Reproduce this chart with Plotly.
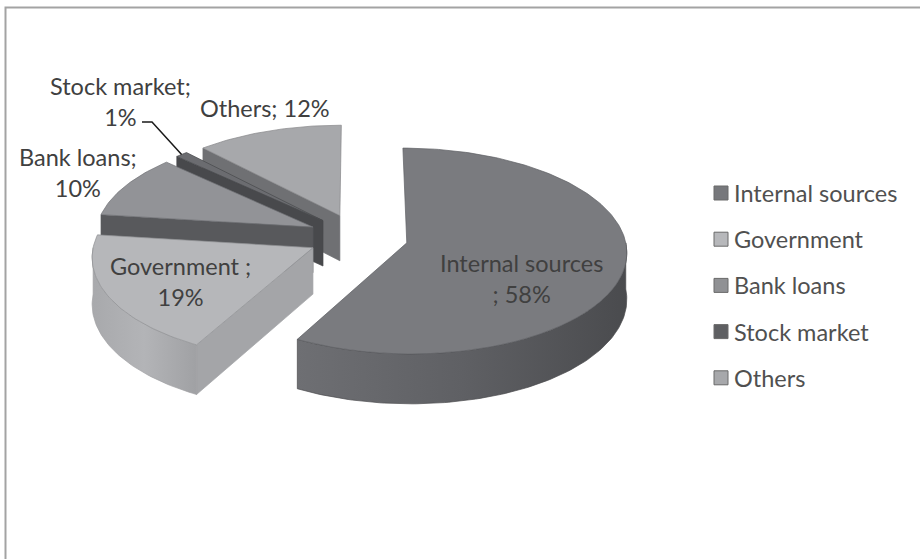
import numpy as np
import plotly.graph_objects as go

# Sources of financing, share of total (%)
categories = ["Internal sources", "Government", "Bank loans", "Stock market", "Others"]
shares = [58, 19, 10, 1, 12]
label_breaks = ["<br>; ", " ;<br>", ";<br>", ";<br>", "; "]

# Fill colours per slice
top_colors = ["#7a7b7f", "#b6b7ba", "#929397", "#6b6c70", "#a7a8ab"]
edge_colors = ["#5f6064", "#8f9093", "#6f7074", "#48494c", "#86878a"]
radial_colors = ["#5c5d61", "#a4a5a8", "#58595c", "#48494c", "#6f7073"]
wall_scales = [
    [[0, "#6e6f73"], [0.5, "#5f6064"], [1, "#4a4b4e"]],
    [[0, "#a8a9ac"], [0.5, "#b3b4b7"], [1, "#a0a1a4"]],
    [[0, "#58595c"], [1, "#4e4f52"]],
    [[0, "#48494c"], [1, "#404144"]],
    [[0, "#6f7073"], [1, "#636467"]],
]
legend_colors = ["#77787c", "#b7b8bb", "#909194", "#5e5f62", "#a7a8ab"]

# Drawing geometry in page pixels
W, H = 920, 559
CX, CY = 358, 237          # pie centre before explosion
RX, RY = 218, 102          # ellipse radii of the tilted disc
DEPTH = 46                 # thickness of the disc
PERSP = 0.08               # nearer parts drawn slightly larger
EXPLODE = 0.23             # outward offset of every slice (fraction of radius)

label_pos = [(521, 278), (180, 281), (78, 172), (120, 101), (265, 108)]
legend_x, legend_y0, legend_dy = 721, 193, 46.2
stock_leader = [(142, 122), (152, 122)]

FONT = "Lato"
FONT_SIZE = 23.5
TEXT_COLOR = "#404040"


def project(u, v, drop=0.0):
    s = 1 + PERSP * v
    return CX + RX * u * s, CY + RY * v * s + DEPTH * s * drop


def arc(ou, ov, a, b, drop=0.0, n=80):
    th = np.radians(np.linspace(a, b, max(3, int(n * (b - a) / 90) + 2)))
    pts = [project(ou + np.sin(t), ov - np.cos(t), drop) for t in th]
    return [p[0] for p in pts], [p[1] for p in pts]


total = float(sum(shares))
bounds = np.concatenate([[0], np.cumsum(shares)]) / total * 360.0

slices = []
for i, name in enumerate(categories):
    a, b = bounds[i], bounds[i + 1]
    mid = np.radians((a + b) / 2)
    ou, ov = EXPLODE * np.sin(mid), -EXPLODE * np.cos(mid)
    slices.append(dict(i=i, a=a, b=b, ou=ou, ov=ov))

fig = go.Figure()


def add_poly(xs, ys, fill, line, gradient=None):
    kw = dict(x=xs, y=ys, mode="lines", fill="toself", fillcolor=fill,
              line=dict(color=line, width=0.7), hoverinfo="skip", showlegend=False)
    if gradient is not None:
        kw["fillgradient"] = dict(type="horizontal", colorscale=gradient)
    fig.add_trace(go.Scatter(**kw))


# back slices first so nearer ones overlap them
for sl in sorted(slices, key=lambda d: d["ov"]):
    i, a, b, ou, ov = sl["i"], sl["a"], sl["b"], sl["ou"], sl["ov"]
    tip_t = project(ou, ov)
    tip_b = project(ou, ov, 1)

    # flat radial walls that face the viewer
    for edge, visible in ((a, np.sin(np.radians(a)) < -1e-6),
                          (b, np.sin(np.radians(b)) > 1e-6)):
        if not visible:
            continue
        t = np.radians(edge)
        e_t = project(ou + np.sin(t), ov - np.cos(t))
        e_b = project(ou + np.sin(t), ov - np.cos(t), 1)
        xs = [tip_t[0], e_t[0], e_b[0], tip_b[0], tip_t[0]]
        ys = [tip_t[1], e_t[1], e_b[1], tip_b[1], tip_t[1]]
        add_poly(xs, ys, radial_colors[i], radial_colors[i])

    # curved outer wall on the front half
    lo, hi = max(a, 90.0), min(b, 270.0)
    if hi > lo:
        xt, yt = arc(ou, ov, lo, hi)
        xb, yb = arc(ou, ov, lo, hi, drop=1)
        xs = xt + xb[::-1] + [xt[0]]
        ys = yt + yb[::-1] + [yt[0]]
        add_poly(xs, ys, wall_scales[i][0][1], wall_scales[i][-1][1], wall_scales[i])

    # top face
    xa, ya = arc(ou, ov, a, b)
    xs = [tip_t[0]] + xa + [tip_t[0]]
    ys = [tip_t[1]] + ya + [tip_t[1]]
    add_poly(xs, ys, top_colors[i], edge_colors[i])

# leader line for the thin slice
stock = slices[categories.index("Stock market")]
mt = np.radians((stock["a"] + stock["b"]) / 2)
end = project(stock["ou"] + np.sin(mt), stock["ov"] - np.cos(mt))
fig.add_trace(go.Scatter(
    x=[p[0] for p in stock_leader] + [end[0]],
    y=[p[1] for p in stock_leader] + [end[1]],
    mode="lines", line=dict(color="#1a1a1a", width=1.5),
    hoverinfo="skip", showlegend=False))

# data labels
for i, name in enumerate(categories):
    fig.add_annotation(
        x=label_pos[i][0], y=label_pos[i][1], xref="x", yref="y",
        text=f"{name}{label_breaks[i]}{shares[i]}%", showarrow=False,
        font=dict(family=FONT, size=FONT_SIZE, color=TEXT_COLOR),
        xanchor="center", yanchor="middle", align="center")

# legend
ly = [legend_y0 + legend_dy * k for k in range(len(categories))]
fig.add_trace(go.Scatter(
    x=[legend_x] * len(categories), y=ly, mode="markers",
    marker=dict(symbol="square", size=14, color=legend_colors,
                line=dict(color="#6a6a6a", width=1)),
    hoverinfo="skip", showlegend=False))
for k, name in enumerate(categories):
    fig.add_annotation(
        x=legend_x + 11, y=ly[k], xref="x", yref="y", text=name, showarrow=False,
        font=dict(family=FONT, size=FONT_SIZE, color="#505050"),
        xanchor="left", yanchor="middle")

# chart-area border (right and bottom run off the page)
fig.add_shape(type="rect", x0=5.5, y0=7.5, x1=W + 10, y1=H + 10,
              xref="x", yref="y", line=dict(color="#a3a3a3", width=2),
              fillcolor="rgba(0,0,0,0)", layer="below")

fig.update_layout(
    width=W, height=H, autosize=False,
    margin=dict(l=0, r=0, t=0, b=0, pad=0),
    paper_bgcolor="white", plot_bgcolor="white",
    xaxis=dict(range=[0, W], visible=False, fixedrange=True),
    yaxis=dict(range=[H, 0], visible=False, fixedrange=True),
    showlegend=False,
)

fig.write_html("out.html")
